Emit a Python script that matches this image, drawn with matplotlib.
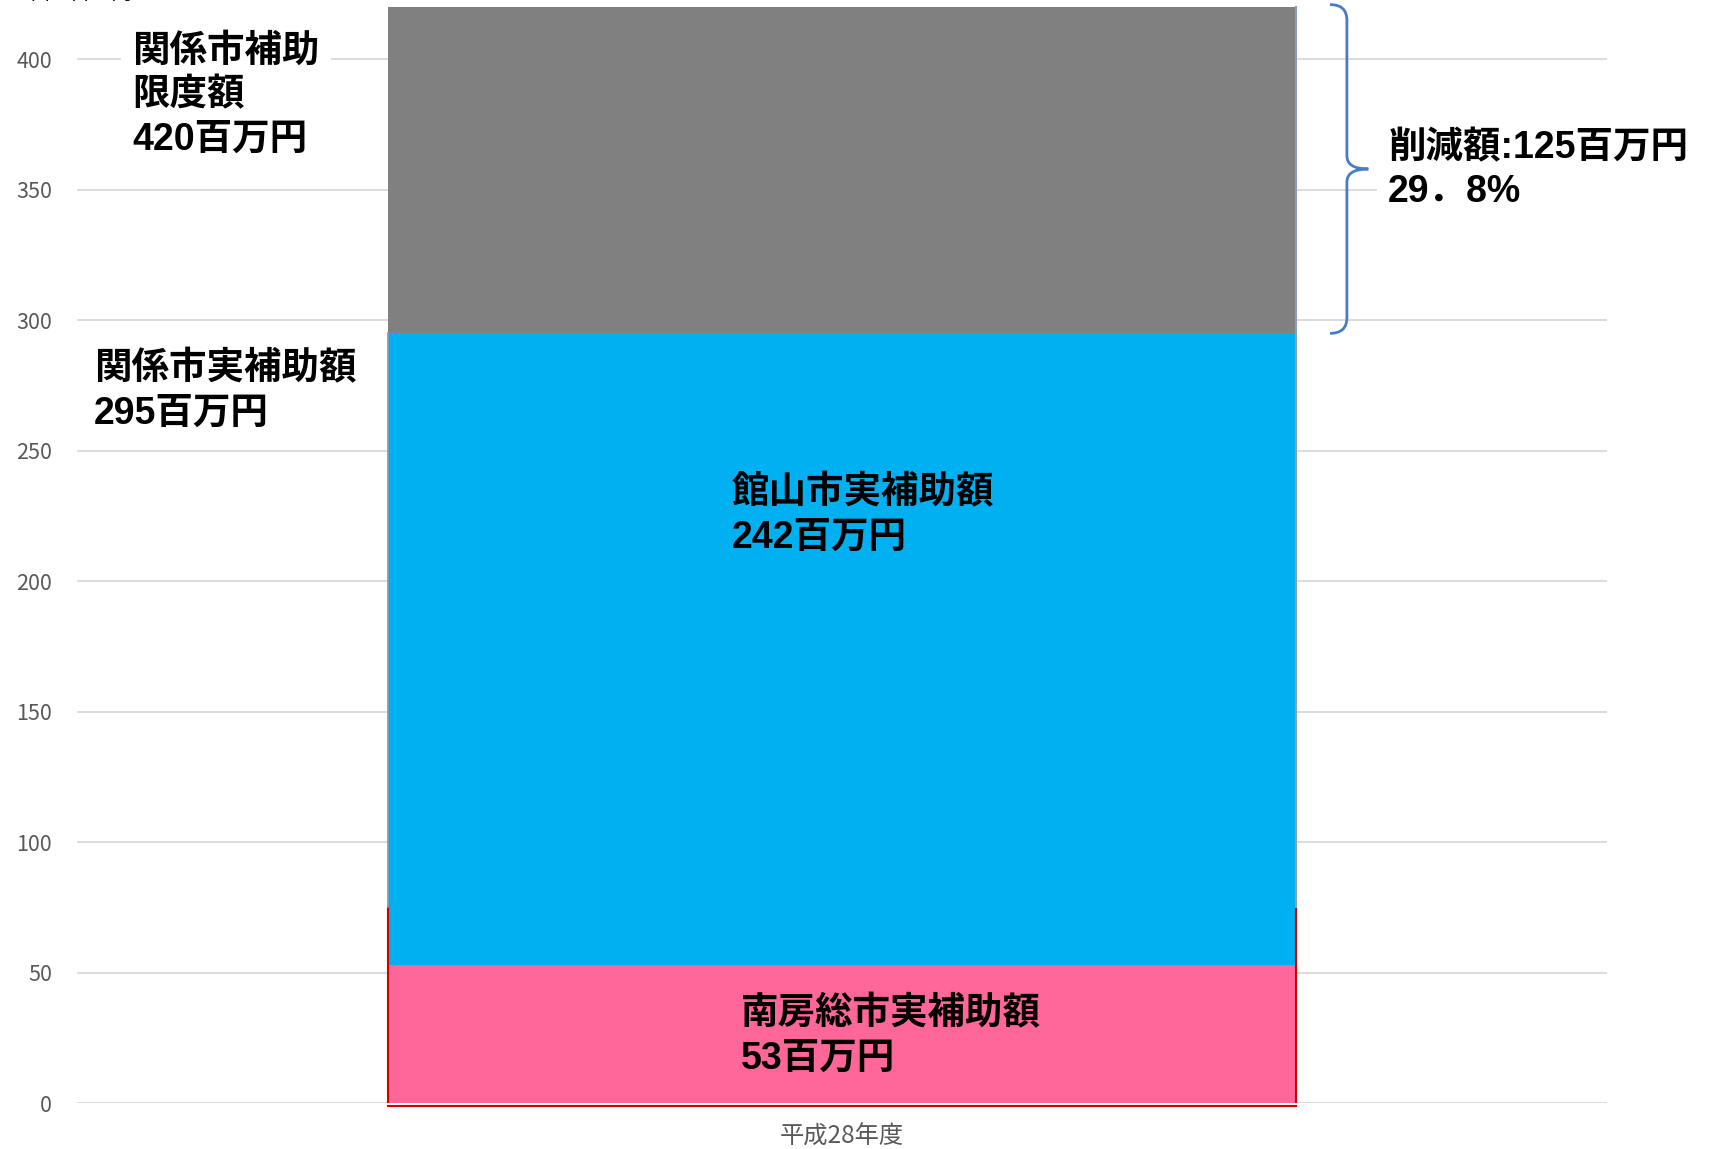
import matplotlib
matplotlib.use("Agg")
import matplotlib.pyplot as plt
from matplotlib.path import Path
from matplotlib.patches import PathPatch

plt.rcParams['font.family'] = ['Noto Sans CJK JP', 'DejaVu Sans']

# data (単位:百万円)
category = ['平成28年度']
minamiboso = [53]      # 南房総市実補助額
tateyama = [242]       # 館山市実補助額
limit_total = 420      # 関係市補助限度額
actual_total = minamiboso[0] + tateyama[0]   # 295
reduction = [limit_total - actual_total]     # 125
reduction_pct = 29.8
y_ticks = [0, 50, 100, 150, 200, 250, 300, 350, 400]

c_pink = '#FF6699'
c_blue = '#00B0F0'
c_gray = '#808080'
c_brace = '#4A7CC4'
c_tick = '#595959'

fig = plt.figure(figsize=(17.24, 11.49), dpi=100)
ax = fig.add_axes([77 / 1724, 1 - 1103 / 1149, 1530 / 1724, 1101 / 1149])

bar_w = 0.594
x = [0]
ax.bar(x, minamiboso, width=bar_w, color=c_pink, zorder=2)
ax.bar(x, tateyama, width=bar_w, bottom=minamiboso, color=c_blue, zorder=2)
ax.bar(x, reduction, width=bar_w, bottom=[actual_total], color=c_gray, zorder=2)

ax.set_xlim(-0.5, 0.5)
ax.set_ylim(0, 422)
ax.set_yticks(y_ticks)
ax.set_xticks(x)
ax.set_xticklabels(category)
ax.tick_params(axis='y', length=0, pad=18, labelsize=15.5, labelcolor=c_tick)
ax.tick_params(axis='x', length=0, pad=15, labelsize=17.5, labelcolor=c_tick)
ax.grid(axis='y', color='#D9D9D9', linewidth=1.3, zorder=0)
for s in ax.spines.values():
    s.set_visible(False)

# thin outlines seen around the bar
xl, xr = -bar_w / 2, bar_w / 2
red_top = 75
ax.plot([xl, xl], [0, red_top], color='#D00000', lw=1.5, zorder=3)
ax.plot([xr, xr], [0, red_top], color='#D00000', lw=1.5, zorder=3)
ax.plot([xl, xr], [-1, -1], color='#D00000', lw=1.5, zorder=3, clip_on=False)
ax.plot([xl, xl], [red_top, actual_total], color='#8C94AA', lw=1.2, zorder=3)
ax.plot([xr, xr], [red_top, limit_total], color='#8C9CC0', lw=1.5, zorder=3)

# curly brace for the reduction
tip, bx, pt = 0.319, 0.330, 0.344
top, bot = limit_total + 1, actual_total
mid = (top + bot) / 2
verts = [(tip, top), (bx, top), (bx, top - 6),
         (bx, mid + 5), (bx, mid), (pt, mid),
         (bx, mid), (bx, mid - 5),
         (bx, bot + 6), (bx, bot), (tip, bot)]
codes = [Path.MOVETO, Path.CURVE3, Path.CURVE3,
         Path.LINETO, Path.CURVE3, Path.CURVE3,
         Path.CURVE3, Path.CURVE3,
         Path.LINETO, Path.CURVE3, Path.CURVE3]
ax.add_patch(PathPatch(Path(verts, codes), fill=False, edgecolor=c_brace, lw=2, zorder=4, clip_on=False))

# labels: Liberation Sans for the digits, Noto CJK for the kanji
lab_font = ['Liberation Sans', 'Noto Sans CJK JP']
box = dict(facecolor='white', edgecolor='none', pad=8)
fs = 27
common = dict(fontsize=fs, fontweight='bold', family=lab_font, va='top', ha='left',
              linespacing=1.3, zorder=5)
ax.text(-0.464, 410, f'関係市補助\n限度額\n{limit_total}百万円', bbox=box, **common)
ax.text(-0.489, 288, f'関係市実補助額\n{actual_total}百万円', bbox=box, **common)
ax.text(-0.072, 240.5, f'館山市実補助額\n{tateyama[0]}百万円', **common)
ax.text(-0.066, 41, f'南房総市実補助額\n{minamiboso[0]}百万円', **common)
ax.text(0.357, 373, f'削減額:{reduction[0]}百万円\n{int(reduction_pct)}．{int(round(reduction_pct * 10)) % 10}%',
        bbox=box, clip_on=False, **common)

fig.text(0.013, 1 - 4 / 1149, '単位:百万円', fontsize=15, color='black', va='bottom', ha='left')

fig.savefig('out.png', dpi=100)
